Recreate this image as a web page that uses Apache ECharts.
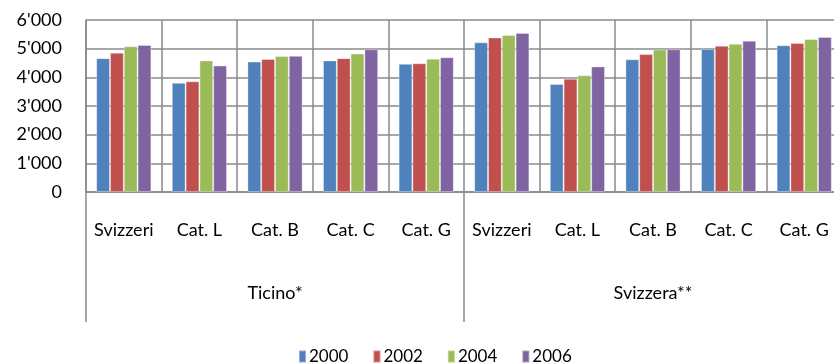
<!DOCTYPE html>
<html>
<head>
<meta charset="utf-8">
<script src="https://cdn.jsdelivr.net/npm/echarts@6/dist/echarts.min.js"></script>
<style>
  html, body { margin: 0; padding: 0; background: #fff; }
  #chart { width: 834px; height: 363px; }
</style>
</head>
<body>
<div id="chart"></div>
<script>
// Categories (inner level) and regions (outer level)
const categories = ['Svizzeri', 'Cat. L', 'Cat. B', 'Cat. C', 'Cat. G',
                    'Svizzeri', 'Cat. L', 'Cat. B', 'Cat. C', 'Cat. G'];
const regions = ['Ticino*', 'Svizzera**'];
const years = ['2000', '2002', '2004', '2006'];

// Values per year, one per category
const values2000 = [4670, 3810, 4550, 4590, 4470, 5220, 3770, 4630, 4990, 5120];
const values2002 = [4860, 3860, 4640, 4670, 4490, 5390, 3950, 4810, 5100, 5200];
const values2004 = [5080, 4590, 4740, 4830, 4650, 5480, 4070, 4970, 5170, 5340];
const values2006 = [5130, 4410, 4750, 4980, 4700, 5550, 4380, 4980, 5280, 5410];

const yTicks = { min: 0, max: 6000, interval: 1000 };

const colors = ['#4F81BD', '#C0504D', '#9BBB59', '#8064A2'];
const seriesValues = [values2000, values2002, values2004, values2006];
const gridColor = '#8a8a8a';
const fontFamily = 'Lato, "Open Sans", sans-serif';

function thousands(v) {
  return String(v).replace(/\B(?=(\d{3})+(?!\d))/g, "'");
}

const chart = echarts.init(document.getElementById('chart'));
chart.setOption({
  animation: false,
  color: colors,
  // plot area runs slightly past the right edge of the canvas
  grid: { left: 86, top: 20, width: 756, height: 172, containLabel: false, outerBoundsMode: 'none' },
  legend: {
    bottom: -7,
    left: 293,
    icon: 'rect',
    itemWidth: 7,
    itemHeight: 12,
    itemGap: 24,
    textStyle: { fontFamily, fontSize: 17, color: '#000', padding: [0, 0, 0, -2] },
    data: years
  },
  xAxis: [
    {
      type: 'category',
      data: categories,
      position: 'bottom',
      axisLine: { show: true, lineStyle: { color: gridColor, width: 1.5 } },
      axisTick: { show: false },
      splitLine: { show: true, lineStyle: { color: gridColor, width: 1.5 } },
      axisLabel: { interval: 0, margin: 29, fontFamily, fontSize: 18, color: '#000' }
    },
    {
      type: 'category',
      data: regions,
      position: 'bottom',
      gridIndex: 0,
      axisLine: { show: false },
      axisTick: { show: true, length: 130, interval: 0, lineStyle: { color: gridColor, width: 1.5 } },
      splitLine: { show: false },
      axisLabel: { interval: 0, margin: 92, fontFamily, fontSize: 18, color: '#000' }
    }
  ],
  yAxis: {
    type: 'value',
    min: yTicks.min,
    max: yTicks.max,
    interval: yTicks.interval,
    axisLine: { show: true, lineStyle: { color: gridColor, width: 1.5 } },
    axisTick: { show: false },
    splitLine: { show: true, lineStyle: { color: gridColor, width: 1.5 } },
    axisLabel: { margin: 24, fontFamily, fontSize: 18, color: '#000', formatter: thousands }
  },
  series: years.map((y, i) => ({
    name: y,
    type: 'bar',
    xAxisIndex: 0,
    data: seriesValues[i],
    barGap: '0%',
    barCategoryGap: '27%',
    itemStyle: { color: colors[i], borderColor: 'rgba(255,255,255,0.35)', borderWidth: 1 }
  }))
});
</script>
</body>
</html>
